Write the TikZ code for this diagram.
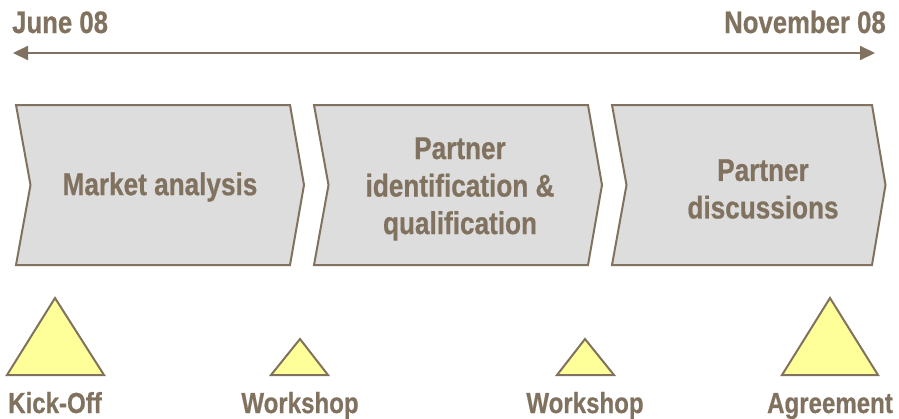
\documentclass[tikz,border=0pt]{standalone}
\usepackage{fontspec}
\setmainfont{Liberation Sans}[BoldFont={Liberation Sans Bold}, BoldFeatures={FakeStretch=0.83, FakeBold=0.6}, FakeStretch=0.83]
\usetikzlibrary{arrows.meta}

\definecolor{linebrown}{RGB}{128,114,95}
\definecolor{boxgray}{RGB}{221,221,221}
\definecolor{mileyellow}{RGB}{255,255,153}

\tikzset{
	phase/.style={draw=linebrown, fill=boxgray, line width=2pt, line join=miter},
	milestone/.style={draw=linebrown, fill=mileyellow, line width=2pt, line join=miter},
	label/.style={text=linebrown, font=\bfseries\fontsize{29}{34}\selectfont},
	datelabel/.style={label, font=\bfseries\fontsize{31}{36}\selectfont},
	phasetext/.style={text=linebrown, align=center, font=\bfseries\fontsize{31.5}{37.5}\selectfont}
}

\begin{document}
\begin{tikzpicture}[x=1pt, y=1pt]
	\tikzstyle{every node}+=[inner sep=0pt]
	\useasboundingbox (0,0) rectangle (899,-418);
	% time axis
	\node [datelabel, anchor=base west] (jun) at (12,-33) {June 08};
	\node [datelabel, anchor=base east] (nov) at (886,-33) {November 08};
	\coordinate (axisL) at (13,-53);
	\coordinate (axisR) at (875,-53);
	\draw [linebrown, line width=2pt, {Triangle[length=15pt,width=14pt]}-{Triangle[length=15pt,width=14pt]}] (axisL) -- (axisR);
	% phases
	\draw [phase] (16,-105) -- (290,-105) -- (304,-185) -- (290,-265) -- (16,-265) -- (30.5,-185) -- cycle;
	\node [phasetext] (market) at (160,-187) {Market analysis};
	\draw [phase] (314,-105) -- (588,-105) -- (602,-185) -- (588,-265) -- (314,-265) -- (328.5,-185) -- cycle;
	\node [phasetext] (ident) at (460,-189) {Partner\\identification \&\\qualification};
	\draw [phase] (612,-105) -- (872,-105) -- (885.5,-185) -- (872,-265) -- (612,-265) -- (626.5,-185) -- cycle;
	\node [phasetext] (disc) at (763,-189) {Partner\\discussions};
	% milestones
	\draw [milestone] (7,-375) -- (55,-298) -- (104,-375) -- cycle;
	\node [label, anchor=base] (kick) at (55,-413) {Kick-Off};
	\draw [milestone] (271,-375) -- (300,-339) -- (328,-375) -- cycle;
	\node [label, anchor=base] (ws1) at (300,-413) {Workshop};
	\draw [milestone] (557,-375) -- (585,-339) -- (614,-375) -- cycle;
	\node [label, anchor=base] (ws2) at (585,-413) {Workshop};
	\draw [milestone] (782,-375) -- (830,-298) -- (878,-375) -- cycle;
	\node [label, anchor=base] (agree) at (830,-413) {Agreement};
\end{tikzpicture}
\end{document}
